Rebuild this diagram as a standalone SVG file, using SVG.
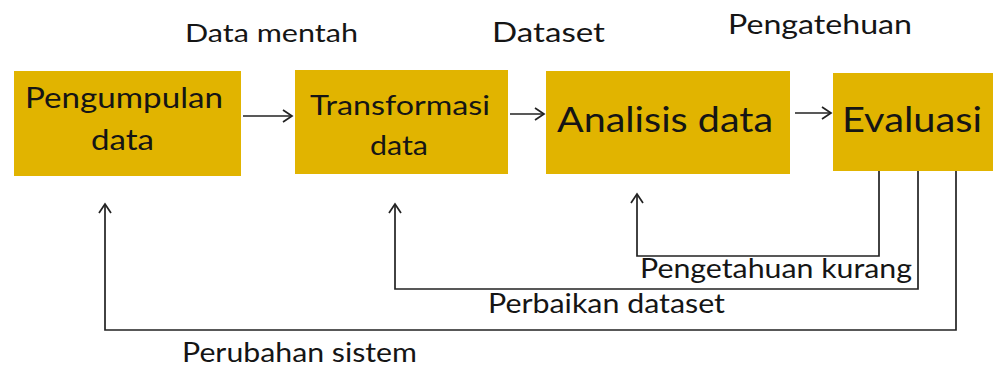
<svg xmlns="http://www.w3.org/2000/svg" width="993" height="370" viewBox="0 0 993 370">
<style>
.box{fill:#E1B400;}
.t{font-family:Lato,"Open Sans","Liberation Sans",sans-serif;fill:#151515;}
.c{fill:none;stroke:#222;stroke-width:1.7;}
</style>
<defs>
<marker id="ah" markerWidth="14" markerHeight="14" refX="11" refY="7" orient="auto" markerUnits="userSpaceOnUse">
<polyline points="2,1 11,7 2,13" fill="none" stroke="#222" stroke-width="1.7"/>
</marker>
</defs>
<rect width="993" height="370" fill="#fff"/>
<g id="n1"><rect class="box" x="14" y="71" width="227" height="105"/>
<text class="t" x="25" y="108" font-size="28" textLength="198" lengthAdjust="spacingAndGlyphs">Pengumpulan</text>
<text class="t" x="91" y="150" font-size="28" textLength="63" lengthAdjust="spacingAndGlyphs">data</text></g>
<g id="n2"><rect class="box" x="295" y="70" width="213" height="104"/>
<text class="t" x="310" y="115" font-size="27" textLength="180" lengthAdjust="spacingAndGlyphs">Transformasi</text>
<text class="t" x="370" y="155" font-size="27" textLength="58" lengthAdjust="spacingAndGlyphs">data</text></g>
<g id="n3"><rect class="box" x="546" y="71" width="244" height="103"/>
<text class="t" x="557" y="132" font-size="34" textLength="216" lengthAdjust="spacingAndGlyphs">Analisis data</text></g>
<g id="n4"><rect class="box" x="833" y="73" width="160" height="98"/>
<text class="t" x="842" y="132" font-size="34" textLength="140" lengthAdjust="spacingAndGlyphs">Evaluasi</text></g>
<g id="labels">
<text class="t" x="185" y="42" font-size="25" textLength="173" lengthAdjust="spacingAndGlyphs">Data mentah</text>
<text class="t" x="492" y="42" font-size="27" textLength="113" lengthAdjust="spacingAndGlyphs">Dataset</text>
<text class="t" x="728" y="34" font-size="27" textLength="184" lengthAdjust="spacingAndGlyphs">Pengatehuan</text>
<text class="t" x="640" y="278" font-size="26" textLength="272" lengthAdjust="spacingAndGlyphs">Pengetahuan kurang</text>
<text class="t" x="488" y="313" font-size="26" textLength="237" lengthAdjust="spacingAndGlyphs">Perbaikan dataset</text>
<text class="t" x="182" y="362" font-size="26" textLength="235" lengthAdjust="spacingAndGlyphs">Perubahan sistem</text>
</g>
<g id="connectors">
<line class="c" x1="243" y1="116" x2="292" y2="116" marker-end="url(#ah)"/>
<line class="c" x1="510" y1="114" x2="544" y2="114" marker-end="url(#ah)"/>
<line class="c" x1="795" y1="113" x2="831" y2="113" marker-end="url(#ah)"/>
<polyline class="c" points="879,171 879,256 637,256 637,194" marker-end="url(#ah)"/>
<polyline class="c" points="918,171 918,289 395,289 395,204" marker-end="url(#ah)"/>
<polyline class="c" points="956,171 956,330 105,330 105,204" marker-end="url(#ah)"/>
</g>
</svg>
